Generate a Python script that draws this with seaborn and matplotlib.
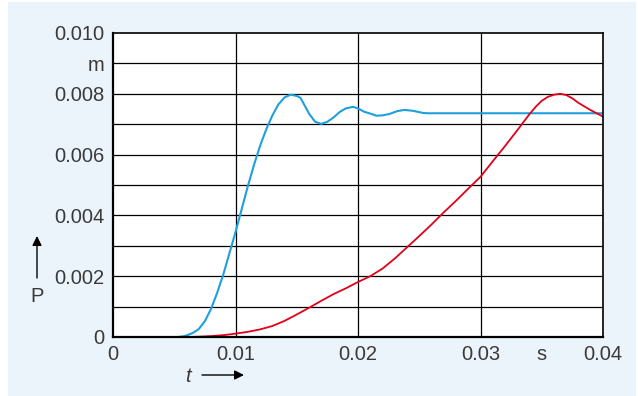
import matplotlib
matplotlib.use("Agg")
import matplotlib.pyplot as plt
import seaborn as sns
from matplotlib.patches import Rectangle

# ---- data ----
t_blue = [0.0053, 0.0057, 0.0060, 0.0065, 0.0070, 0.0075, 0.0080, 0.0085,
          0.0090, 0.0095, 0.0100, 0.0105, 0.0110, 0.0115, 0.0120, 0.0125, 0.0130,
          0.0135, 0.0140, 0.0145, 0.0150, 0.0153, 0.0156, 0.0160, 0.0165, 0.0170,
          0.0175, 0.0180, 0.0185, 0.0190, 0.0196, 0.0200, 0.0205, 0.0210, 0.0215,
          0.0220, 0.0226, 0.0232, 0.0238, 0.0245, 0.0253, 0.0257, 0.0400]
p_blue = [0.0, 0.00002, 0.00005, 0.00013, 0.00026, 0.00052, 0.00092, 0.00145,
          0.00205, 0.00275, 0.00345, 0.00420, 0.00495, 0.00565, 0.00628, 0.00682, 0.00728,
          0.00765, 0.00788, 0.00797, 0.00793, 0.00787, 0.00765, 0.00735, 0.00708, 0.00701,
          0.00708, 0.00722, 0.00740, 0.00752, 0.00757, 0.00752, 0.00741, 0.00735, 0.00728,
          0.00729, 0.00734, 0.00743, 0.00747, 0.00744, 0.00737, 0.00736, 0.00736]

t_red = [0.0063, 0.0070, 0.0080, 0.0090, 0.0100, 0.0110, 0.0120, 0.0130, 0.0140,
         0.0150, 0.0160, 0.0170, 0.0180, 0.0190, 0.0200, 0.0210, 0.0220, 0.0230,
         0.0240, 0.0250, 0.0260, 0.0270, 0.0280, 0.0290, 0.0300, 0.0310, 0.0320,
         0.0330, 0.0340, 0.0345, 0.0350, 0.0355, 0.0360, 0.0365, 0.0370, 0.0375,
         0.0380, 0.0390, 0.0400]
p_red = [0.0, 0.00001, 0.00003, 0.00006, 0.00011, 0.00017, 0.00025, 0.00036, 0.00053,
         0.00074, 0.00096, 0.00119, 0.00141, 0.00160, 0.00181, 0.00200, 0.00225, 0.00258,
         0.00295, 0.00332, 0.00370, 0.00410, 0.00448, 0.00488, 0.00527, 0.00578, 0.00628,
         0.00680, 0.00733, 0.00757, 0.00777, 0.00790, 0.00797, 0.00800, 0.00796, 0.00785,
         0.00770, 0.00746, 0.00725]

x_ticks = [0, 0.01, 0.02, 0.03, 0.035, 0.04]
x_labels = ["0", "0.01", "0.02", "0.03", "s", "0.04"]
y_ticks = [0, 0.001, 0.002, 0.003, 0.004, 0.005, 0.006, 0.007, 0.008, 0.009, 0.010]
y_labels = ["0", "", "0.002", "", "0.004", "", "0.006", "", "0.008", "m", "0.010"]
x_grid = [0.01, 0.02, 0.03]

sns.set_style("white")
plt.rcParams["font.family"] = ["Liberation Sans", "DejaVu Sans"]

W, H = 638, 396
fig = plt.figure(figsize=(W / 100, H / 100), dpi=100)
fig.patch.set_facecolor("white")
fig.patches.append(Rectangle((8 / W, 0), 628 / W, 394 / H, transform=fig.transFigure,
                             facecolor="#ebf3fb", edgecolor="none", zorder=-10))

L, R, T, B = 113, 603, 33, 337
ax = fig.add_axes([L / W, 1 - B / H, (R - L) / W, (B - T) / H])
ax.set_facecolor("white")

for xv in x_grid:
    ax.axvline(xv, color="black", lw=0.9, zorder=1)
for yv in y_ticks[1:-1]:
    ax.axhline(yv, color="black", lw=0.9, zorder=1)

sns.lineplot(x=t_blue, y=p_blue, color="#1ea0dc", lw=1.5, ax=ax, zorder=3)
sns.lineplot(x=t_red, y=p_red, color="#e2001a", lw=1.3, ax=ax, zorder=3)

ax.set_xlim(0, 0.04)
ax.set_ylim(0, 0.010)
ax.set_xticks(x_ticks)
ax.set_xticklabels(x_labels)
ax.set_yticks(y_ticks)
ax.set_yticklabels(y_labels)
ax.tick_params(length=0, labelsize=14.5, labelcolor="#3a3a3a")
ax.tick_params(axis="y", pad=6)
ax.tick_params(axis="x", pad=6)
for s in ax.spines.values():
    s.set_visible(True)
    s.set_color("black")
    s.set_linewidth(1.2)
    s.set_zorder(4)
ax.spines["left"].set_linewidth(1.6)
ax.spines["bottom"].set_linewidth(1.6)

# axis symbols with arrows
ax.text((37 - L) / (R - L), (B - 297) / (B - T), "P", transform=ax.transAxes,
        ha="center", va="center", fontsize=14.5, color="#3a3a3a")
ax.annotate("", xy=((37 - L) / (R - L), (B - 236) / (B - T)),
            xytext=((37 - L) / (R - L), (B - 278) / (B - T)),
            xycoords="axes fraction", textcoords="axes fraction",
            arrowprops=dict(arrowstyle="-|>", color="black", lw=1.0,
                            mutation_scale=14, shrinkA=0, shrinkB=0),
            annotation_clip=False)
ax.text((188 - L) / (R - L), (B - 376) / (B - T), "t", transform=ax.transAxes,
        ha="center", va="center", fontsize=14.5, style="italic", color="#3a3a3a")
ax.annotate("", xy=((244 - L) / (R - L), (B - 375) / (B - T)),
            xytext=((202 - L) / (R - L), (B - 375) / (B - T)),
            xycoords="axes fraction", textcoords="axes fraction",
            arrowprops=dict(arrowstyle="-|>", color="black", lw=1.0,
                            mutation_scale=14, shrinkA=0, shrinkB=0),
            annotation_clip=False)

fig.savefig("out.png", dpi=100, facecolor="white")
